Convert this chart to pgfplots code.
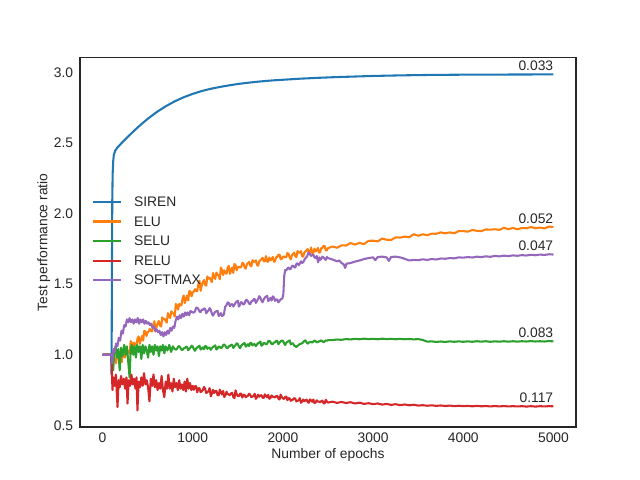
\documentclass[border=0pt]{standalone}
\usepackage{fontspec}
\setmainfont{Liberation Sans}
\usepackage{pgfplots}
\pgfplotsset{compat=1.18}
\definecolor{c0}{HTML}{1F77B4}
\definecolor{c1}{HTML}{FF7F0E}
\definecolor{c2}{HTML}{2CA02C}
\definecolor{c3}{HTML}{D62728}
\definecolor{c4}{HTML}{9467BD}
\definecolor{txt}{HTML}{262626}
\begin{document}
\begin{tikzpicture}
\useasboundingbox (0,0) rectangle (6.4in,4.8in);
\begin{axis}[
  at={(0.8in,0.528in)}, anchor=south west,
  width=4.96in, height=3.696in, scale only axis,
  xmin=-250, xmax=5250, ymin=0.487, ymax=3.105,
  xtick={0,1000,2000,3000,4000,5000},
  ytick={0.5,1,1.5,2,2.5,3},
  major tick length=0pt,
  tick style={draw=none},
  axis line style={draw=txt, line width=1.25pt},
  /pgf/number format/assume math mode=true,
  xticklabel style={/pgf/number format/1000 sep={}, inner sep=0pt, yshift=-4.2pt, text=txt},
  yticklabel style={/pgf/number format/fixed, /pgf/number format/fixed zerofill, /pgf/number format/precision=1, inner sep=0pt, xshift=-4.8pt, text=txt},
  xlabel={Number of epochs}, ylabel={Test performance ratio},
  xlabel style={at={(axis description cs:0.5,-0.0841)}, anchor=base, text=txt, inner sep=0pt},
  ylabel style={at={(axis description cs:-0.0659,0.5)}, anchor=base, text=txt, inner sep=0pt},
  legend style={draw=none, fill=none, at={(0,0.5)}, anchor=west, xshift=8.45pt, yshift=1pt, inner xsep=0pt, inner ysep=0pt, nodes={inner sep=0pt, text depth=0pt, text=txt}, row sep=7.2pt},
  legend cell align=left,
  legend image code/.code={\draw[#1, line width=1.5pt] (0pt,0pt) -- (20.2pt,0pt); \path (28.9pt,0pt);},
  clip mode=individual,
  every axis plot/.append style={line width=1.5pt, line join=round},
]
% SIREN
\addplot[c0] coordinates {(0,1.0)(95,1.0)(100,0.86)(104,1.6)(108,2.1)(112,2.28)(118,2.37)(125,2.415)(140,2.445)(165,2.468)(200,2.492)(250,2.525)(300,2.556)(350,2.587)(400,2.616)(450,2.644)(500,2.671)(600,2.719)(700,2.760)(800,2.795)(900,2.824)(1000,2.848)(1100,2.868)(1200,2.884)(1300,2.897)(1400,2.908)(1500,2.918)(1600,2.926)(1700,2.933)(1800,2.939)(1900,2.944)(2000,2.948)(2200,2.956)(2400,2.962)(2600,2.967)(2800,2.971)(3000,2.975)(3300,2.979)(3600,2.982)(4000,2.984)(4500,2.985)(5000,2.986)};
\addlegendentry{SIREN}
% ELU
\addplot[c1] coordinates {(0,1.0)(100,1.0)(125,1.005)(137.5,0.958)(150,0.940)(162.5,1.000)(175,0.980)(187.5,0.980)(200,0.960)(212.5,0.948)(225,1.015)(237.5,0.993)(250,0.980)(262.5,1.033)(275,1.025)(287.5,1.028)(300,1.010)(312.5,1.096)(325,1.083)(337.5,1.049)(350,1.085)(362.5,1.071)(375,1.068)(387.5,1.114)(400,1.130)(412.5,1.078)(425,1.105)(437.5,1.133)(450,1.100)(462.5,1.168)(475,1.165)(487.5,1.133)(500,1.160)(512.5,1.166)(525,1.183)(537.5,1.169)(550,1.165)(562.5,1.211)(575,1.238)(587.5,1.164)(600,1.200)(612.5,1.225)(625,1.240)(637.5,1.205)(650,1.200)(662.5,1.265)(675,1.250)(687.5,1.255)(700,1.240)(712.5,1.228)(725,1.295)(737.5,1.273)(750,1.260)(762.5,1.308)(775,1.295)(787.5,1.293)(800,1.270)(812.5,1.360)(825,1.350)(837.5,1.320)(850,1.360)(862.5,1.350)(875,1.350)(887.5,1.400)(900,1.420)(912.5,1.366)(925,1.393)(937.5,1.419)(950,1.385)(962.5,1.451)(975,1.448)(987.5,1.414)(1000,1.440)(1012.5,1.448)(1025,1.465)(1037.5,1.453)(1050,1.450)(1062.5,1.498)(1075,1.525)(1087.5,1.453)(1100,1.490)(1112.5,1.515)(1125,1.530)(1137.5,1.495)(1150,1.490)(1162.5,1.555)(1175,1.540)(1187.5,1.545)(1200,1.530)(1212.5,1.515)(1225,1.579)(1237.5,1.553)(1250,1.538)(1262.5,1.582)(1275,1.566)(1287.5,1.561)(1300,1.535)(1312.5,1.618)(1325,1.601)(1337.5,1.564)(1350,1.598)(1362.5,1.581)(1375,1.574)(1387.5,1.617)(1400,1.630)(1412.5,1.573)(1425,1.595)(1437.5,1.618)(1450,1.580)(1462.5,1.643)(1475,1.635)(1487.5,1.598)(1500,1.620)
(1512.5,1.623)(1525,1.618)(1537.5,1.621)(1550,1.651)(1562.5,1.647)(1575,1.621)(1587.5,1.610)(1600,1.640)(1612.5,1.649)(1625,1.658)(1637.5,1.632)(1650,1.627)(1662.5,1.670)(1675,1.658)(1687.5,1.660)(1700,1.669)(1712.5,1.636)(1725,1.631)(1737.5,1.661)(1750,1.670)(1762.5,1.678)(1775,1.687)(1787.5,1.661)(1800,1.663)(1812.5,1.699)(1825,1.659)(1837.5,1.660)(1850,1.689)(1862.5,1.669)(1875,1.678)(1887.5,1.693)(1900,1.659)(1912.5,1.661)(1925,1.691)(1937.5,1.693)(1950,1.709)(1962.5,1.710)(1975,1.677)(1987.5,1.679)(2000,1.695)(2012.5,1.696)(2025,1.691)(2037.5,1.692)(2050,1.721)(2062.5,1.715)(2075,1.689)(2087.5,1.676)(2100,1.705)(2112.5,1.714)(2125,1.723)(2137.5,1.697)(2150,1.692)(2162.5,1.735)(2175,1.723)(2187.5,1.725)(2200,1.734)(2212.5,1.700)(2225,1.695)(2237.5,1.724)(2250,1.732)(2262.5,1.740)(2275,1.749)(2287.5,1.722)(2300,1.723)(2312.5,1.760)(2325,1.720)(2337.5,1.722)(2350,1.752)(2362.5,1.732)(2375,1.741)(2387.5,1.757)(2400,1.724)(2412.5,1.725)(2425,1.755)(2437.5,1.756)(2450,1.771)(2462.5,1.772)(2475,1.739)(2487.5,1.740)(2500,1.755)
(2550,1.767)(2600,1.758)(2650,1.775)(2700,1.774)(2750,1.791)(2800,1.781)(2850,1.792)(2900,1.784)(2950,1.807)(3000,1.808)(3050,1.803)(3100,1.823)(3150,1.815)(3200,1.813)(3250,1.832)(3300,1.830)(3350,1.837)(3400,1.832)(3450,1.854)(3500,1.843)(3550,1.853)(3600,1.847)(3650,1.858)(3700,1.857)(3750,1.867)(3800,1.860)(3850,1.867)(3900,1.861)(3950,1.876)(4000,1.876)(4050,1.872)(4100,1.884)(4150,1.878)(4200,1.876)(4250,1.888)(4300,1.886)(4350,1.889)(4400,1.885)(4450,1.899)(4500,1.890)(4550,1.898)(4600,1.889)(4650,1.898)(4700,1.896)(4750,1.905)(4800,1.896)(4850,1.901)(4900,1.895)(4950,1.908)(5000,1.905)};
\addlegendentry{ELU}
% SELU
\addplot[c2] coordinates {(0,1.0)(100,1.0)(110,0.93)(118,0.89)(130,1.02)(145,1.06)(160,0.98)(175,1.04)(190,0.89)(205,1.05)(220,0.99)(240,1.07)(255,1.00)(270,1.06)(285,0.95)(300,0.84)(312,1.04)(325,1.07)(340,1.00)(355,1.06)(370,0.98)(385,1.07)(400,1.02)(415,1.06)(430,0.97)(445,1.07)(460,1.01)(475,1.06)(490,1.03)(505,0.98)(520,1.07)(535,1.02)(550,1.06)(565,1.00)(580,1.07)(595,1.03)(610,1.06)(625,0.99)(640,1.06)(655,1.03)(670,1.07)(685,1.01)(700,1.06)(720,1.03)(740,1.07)(760,1.02)(780,1.06)
(800,1.04)(812.5,1.037)(825,1.040)(837.5,1.058)(850,1.061)(862.5,1.050)(875,1.036)(887.5,1.034)(900,1.046)(912.5,1.047)(925,1.057)(937.5,1.055)(950,1.032)(962.5,1.043)(975,1.052)(987.5,1.064)(1000,1.058)(1012.5,1.040)(1025,1.028)(1037.5,1.044)(1050,1.053)(1062.5,1.057)(1075,1.064)(1087.5,1.037)(1100,1.044)(1112.5,1.053)(1125,1.039)(1137.5,1.062)(1150,1.060)(1162.5,1.042)(1175,1.050)(1187.5,1.050)(1200,1.035)(1212.5,1.047)(1225,1.056)(1237.5,1.060)(1250,1.067)(1262.5,1.037)(1275,1.044)(1287.5,1.059)(1300,1.055)(1312.5,1.048)(1325,1.051)(1337.5,1.069)(1350,1.073)(1362.5,1.063)(1375,1.049)(1387.5,1.048)(1400,1.060)(1412.5,1.061)(1425,1.071)(1437.5,1.070)(1450,1.048)(1462.5,1.060)(1475,1.069)(1487.5,1.081)(1500,1.075)(1512.5,1.058)(1525,1.046)(1537.5,1.063)(1550,1.073)(1562.5,1.077)(1575,1.084)(1587.5,1.058)(1600,1.065)(1612.5,1.075)(1625,1.061)(1637.5,1.084)(1650,1.083)(1662.5,1.066)(1675,1.074)(1687.5,1.075)(1700,1.061)(1712.5,1.073)(1725,1.082)(1737.5,1.086)(1750,1.094)(1762.5,1.064)(1775,1.070)(1787.5,1.085)(1800,1.081)(1812.5,1.074)(1825,1.078)(1837.5,1.096)(1850,1.099)(1862.5,1.089)(1875,1.076)(1887.5,1.075)(1900,1.087)(1912.5,1.088)(1925,1.099)(1937.5,1.098)(1950,1.075)(1962.5,1.086)(1975,1.095)(1987.5,1.100)(2000,1.100)(2012.5,1.082)(2025,1.069)(2037.5,1.085)(2050,1.093)(2062.5,1.096)(2075,1.102)(2087.5,1.074)(2100,1.080)(2112.5,1.080)(2125,1.065)(2137.5,1.062)(2150,1.055)(2162.5,1.063)(2175,1.070)(2187.5,1.076)(2200,1.078)(2212.5,1.082)(2225,1.089)(2237.5,1.097)(2250,1.102)(2262.5,1.088)(2275,1.079)(2287.5,1.087)(2300,1.090)(2312.5,1.092)(2325,1.086)(2337.5,1.094)(2350,1.101)(2362.5,1.096)(2375,1.088)(2387.5,1.090)(2400,1.095)(2412.5,1.098)(2425,1.102)(2437.5,1.096)(2450,1.089)(2462.5,1.094)(2475,1.101)(2487.5,1.100)(2500,1.104)
(2550,1.104)(2600,1.108)(2650,1.106)(2700,1.111)(2750,1.109)(2800,1.113)(2850,1.110)(2900,1.114)(2950,1.111)(3000,1.113)(3050,1.110)(3100,1.114)(3150,1.111)(3200,1.113)(3250,1.110)(3300,1.113)(3350,1.110)(3400,1.112)(3450,1.109)(3500,1.111)(3550,1.105)(3600,1.093)(3650,1.095)(3700,1.091)(3750,1.094)(3800,1.091)(3850,1.095)(3900,1.092)(3950,1.095)(4000,1.092)(4050,1.095)(4100,1.092)(4150,1.096)(4200,1.093)(4250,1.096)(4300,1.092)(4350,1.095)(4400,1.093)(4450,1.096)(4500,1.093)(4550,1.096)(4600,1.093)(4650,1.096)(4700,1.094)(4750,1.097)(4800,1.094)(4850,1.096)(4900,1.094)(4950,1.097)(5000,1.095)};
\addlegendentry{SELU}
% RELU
\addplot[c3] coordinates {(0,1.0)(100,1.0)(104,0.88)(110,0.75)(120,0.84)(132,0.78)(148,0.86)(166,0.63)(178,0.82)(190,0.77)(205,0.85)(220,0.79)(235,0.83)(250,0.76)(265,0.84)(277,0.655)(290,0.82)(305,0.78)(320,0.86)(335,0.79)(350,0.83)(365,0.76)(377,0.84)(387,0.606)(400,0.81)(415,0.77)(430,0.84)(445,0.78)(460,0.87)(475,0.79)(490,0.82)(505,0.77)(520,0.67)(535,0.83)(550,0.78)(565,0.86)(580,0.77)(595,0.82)(610,0.75)(625,0.80)(640,0.76)(655,0.85)(670,0.75)(685,0.70)(700,0.81)(715,0.76)(730,0.86)(745,0.76)(760,0.80)(775,0.74)(790,0.83)(805,0.77)(820,0.80)(835,0.75)(850,0.82)(865,0.76)(880,0.79)(895,0.75)(910,0.81)(925,0.74)(940,0.83)(955,0.76)(970,0.80)(985,0.75)
(1000,0.78)(1012.5,0.752)(1025,0.778)(1037.5,0.778)(1050,0.734)(1062.5,0.763)(1075,0.763)(1087.5,0.735)(1100,0.743)(1112.5,0.750)(1125,0.772)(1137.5,0.759)(1150,0.729)(1162.5,0.737)(1175,0.741)(1187.5,0.764)(1200,0.706)(1212.5,0.725)(1225,0.752)(1237.5,0.729)(1250,0.742)(1262.5,0.745)(1275,0.715)(1287.5,0.712)(1300,0.753)(1312.5,0.734)(1325,0.719)(1337.5,0.744)(1350,0.701)(1362.5,0.712)(1375,0.738)(1387.5,0.721)(1400,0.720)(1412.5,0.714)(1425,0.727)(1437.5,0.730)(1450,0.701)(1462.5,0.693)(1475,0.748)(1487.5,0.722)(1500,0.707)(1512.5,0.707)(1525,0.724)(1537.5,0.725)(1550,0.697)(1562.5,0.716)(1575,0.716)(1587.5,0.699)(1600,0.705)(1612.5,0.710)(1625,0.724)(1637.5,0.717)(1650,0.699)(1662.5,0.705)(1675,0.708)(1687.5,0.724)(1700,0.688)(1712.5,0.699)(1725,0.717)(1737.5,0.703)(1750,0.711)(1762.5,0.714)(1775,0.696)(1787.5,0.694)(1800,0.720)(1812.5,0.709)(1825,0.699)(1837.5,0.716)(1850,0.688)(1862.5,0.695)(1875,0.712)(1887.5,0.702)(1900,0.702)(1912.5,0.698)(1925,0.706)(1937.5,0.709)(1950,0.690)(1962.5,0.683)(1975,0.718)(1987.5,0.701)(2000,0.691)(2012.5,0.687)(2025,0.701)(2037.5,0.704)(2050,0.678)(2062.5,0.693)(2075,0.691)(2087.5,0.674)(2100,0.680)(2112.5,0.683)(2125,0.693)(2137.5,0.688)(2150,0.670)(2162.5,0.674)(2175,0.677)(2187.5,0.693)(2200,0.660)(2212.5,0.668)(2225,0.683)(2237.5,0.671)(2250,0.678)(2262.5,0.682)(2275,0.665)(2287.5,0.661)(2300,0.684)(2312.5,0.676)(2325,0.667)(2337.5,0.683)(2350,0.658)(2362.5,0.662)(2375,0.677)(2387.5,0.669)(2400,0.668)(2412.5,0.664)(2425,0.671)(2437.5,0.675)(2450,0.658)(2462.5,0.655)(2475,0.681)(2487.5,0.669)(2500,0.661)
(2550,0.668)(2600,0.659)(2650,0.666)(2700,0.658)(2750,0.664)(2800,0.655)(2850,0.661)(2900,0.652)(2950,0.657)(3000,0.650)(3050,0.655)(3100,0.647)(3150,0.652)(3200,0.645)(3250,0.650)(3300,0.643)(3350,0.648)(3400,0.642)(3450,0.646)(3500,0.640)(3550,0.643)(3600,0.639)(3650,0.642)(3700,0.638)(3750,0.641)(3800,0.637)(3850,0.640)(3900,0.636)(3950,0.639)(4000,0.636)(4050,0.638)(4100,0.635)(4150,0.638)(4200,0.635)(4250,0.637)(4300,0.634)(4350,0.637)(4400,0.634)(4450,0.637)(4500,0.634)(4550,0.636)(4600,0.634)(4650,0.636)(4700,0.633)(4750,0.636)(4800,0.633)(4850,0.636)(4900,0.634)(4950,0.636)(5000,0.635)};
\addlegendentry{RELU}
% SOFTMAX
\addplot[c4] coordinates {(0,1.0)(100,1.0)(106,0.94)(113,1.0)(122,1.04)(135,1.02)(150,1.08)(165,1.06)(180,1.12)(195,1.10)(210,1.17)(225,1.15)(240,1.21)(255,1.20)(270,1.25)(285,1.23)(300,1.26)(315,1.23)(330,1.25)(345,1.22)(360,1.25)(375,1.23)(390,1.26)(405,1.22)(420,1.25)(435,1.23)(450,1.25)(465,1.22)(480,1.24)(495,1.22)(510,1.23)(525,1.21)(540,1.22)(555,1.19)(570,1.20)(585,1.17)(600,1.18)(615,1.16)(630,1.17)(645,1.14)(660,1.16)(675,1.13)(690,1.16)(705,1.14)(720,1.17)(735,1.15)(750,1.19)(765,1.17)(780,1.20)(795,1.19)(810,1.24)(825,1.27)(840,1.25)(855,1.28)(870,1.26)(885,1.29)(900,1.27)(915,1.30)(930,1.28)(945,1.30)(960,1.28)(975,1.31)
(1000,1.30)(1012.5,1.299)(1025,1.307)(1037.5,1.333)(1050,1.334)(1062.5,1.324)(1075,1.307)(1087.5,1.302)(1100,1.320)(1112.5,1.318)(1125,1.328)(1137.5,1.326)(1150,1.294)(1162.5,1.305)(1175,1.315)(1187.5,1.331)(1200,1.317)(1212.5,1.291)(1225,1.277)(1237.5,1.294)(1250,1.304)(1262.5,1.308)(1275,1.312)(1287.5,1.274)(1300,1.284)(1312.5,1.295)(1325,1.275)(1335,1.278)(1345,1.285)(1360,1.340)(1375,1.352)(1387.5,1.371)(1400,1.367)(1412.5,1.344)(1425,1.357)(1437.5,1.359)(1450,1.342)(1462.5,1.355)(1475,1.368)(1487.5,1.376)(1500,1.383)(1512.5,1.342)(1525,1.354)(1537.5,1.373)(1550,1.367)(1562.5,1.356)(1575,1.363)(1587.5,1.387)(1600,1.388)(1612.5,1.378)(1625,1.362)(1637.5,1.358)(1650,1.378)(1662.5,1.380)(1675,1.393)(1687.5,1.395)(1700,1.367)(1712.5,1.381)(1725,1.395)(1737.5,1.415)(1750,1.405)(1762.5,1.383)(1775,1.372)(1787.5,1.392)(1800,1.406)(1812.5,1.412)(1825,1.417)(1837.5,1.380)(1850,1.391)(1862.5,1.403)(1875,1.384)(1887.5,1.414)(1900,1.407)(1912.5,1.382)(1925,1.392)(1937.5,1.391)(1950,1.371)(1962.5,1.382)(1975,1.392)(1985,1.395)(1995,1.400)(2005,1.430)(2015,1.560)(2025,1.600)(2037.5,1.598)(2050,1.612)(2062.5,1.618)(2075,1.605)(2087.5,1.610)(2100,1.628)(2112.5,1.632)(2125,1.620)(2137.5,1.618)(2150,1.645)(2162.5,1.647)(2175,1.635)(2187.5,1.645)(2200,1.662)(2212.5,1.650)(2225,1.655)(2237.5,1.672)(2250,1.685)(2260,1.690)(2270,1.700)(2285,1.725)(2300,1.712)(2312.5,1.700)(2325,1.705)(2337.5,1.710)(2350,1.690)(2362.5,1.685)(2375,1.700)(2390,1.655)(2405,1.690)(2415,1.672)(2425,1.678)(2437.5,1.695)(2450,1.690)(2462.5,1.680)(2475,1.672)(2487.5,1.692)(2500,1.685)
(2550,1.675)(2600,1.662)(2625,1.668)(2650,1.650)(2675,1.640)(2690,1.615)(2705,1.645)(2750,1.650)(2800,1.660)(2850,1.668)(2900,1.678)(2950,1.685)(3000,1.690)(3025,1.670)(3050,1.692)(3100,1.695)(3150,1.690)(3175,1.665)(3200,1.693)(3250,1.695)(3300,1.690)(3350,1.680)(3400,1.668)(3450,1.672)(3500,1.670)(3550,1.676)(3600,1.672)(3650,1.678)(3700,1.675)(3750,1.682)(3800,1.680)(3850,1.685)(3900,1.683)(3950,1.690)(4000,1.688)(4050,1.692)(4100,1.689)(4150,1.695)(4200,1.692)(4250,1.697)(4300,1.694)(4350,1.700)(4400,1.697)(4450,1.702)(4500,1.699)(4550,1.704)(4600,1.701)(4650,1.706)(4700,1.703)(4750,1.708)(4800,1.705)(4850,1.710)(4900,1.707)(4950,1.712)(5000,1.710)};
\addlegendentry{SOFTMAX}
\node[anchor=south east, inner sep=0pt, text=txt, yshift=2.6pt] at (axis cs:5000,2.986) {0.033};
\node[anchor=south east, inner sep=0pt, text=txt, yshift=2.6pt] at (axis cs:5000,1.905) {0.052};
\node[anchor=south east, inner sep=0pt, text=txt, yshift=2.6pt] at (axis cs:5000,1.710) {0.047};
\node[anchor=south east, inner sep=0pt, text=txt, yshift=2.6pt] at (axis cs:5000,1.095) {0.083};
\node[anchor=south east, inner sep=0pt, text=txt, yshift=2.6pt] at (axis cs:5000,0.635) {0.117};
\end{axis}
\end{tikzpicture}
\end{document}
